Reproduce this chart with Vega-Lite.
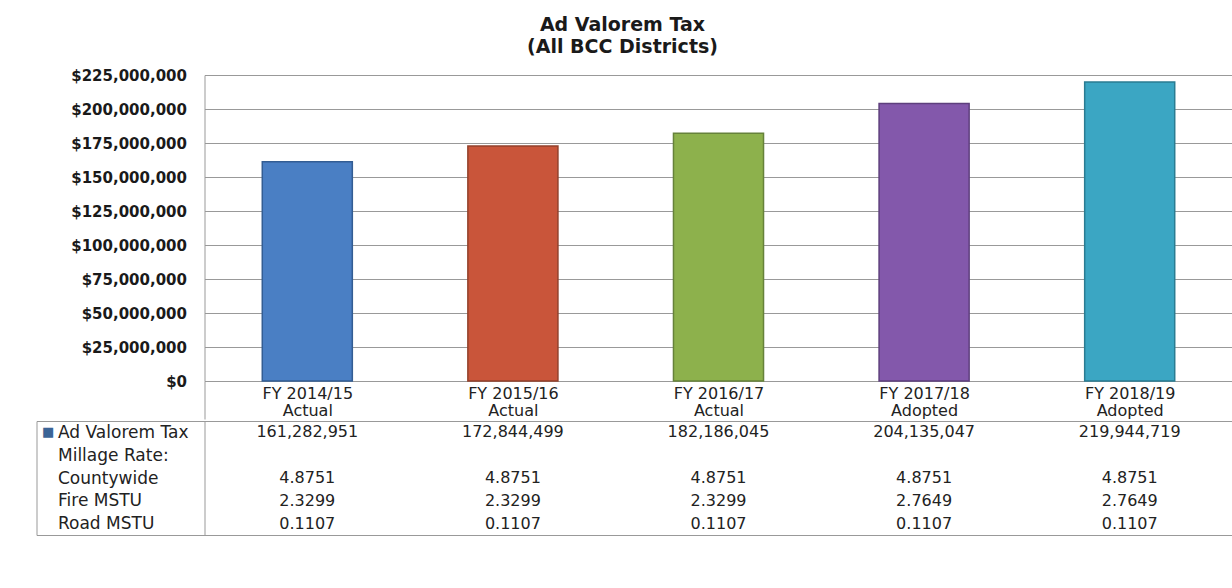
{
  "$schema": "https://vega.github.io/schema/vega-lite/v6.json",
  "padding": {"left": 35.5, "top": 16, "right": 0, "bottom": 0},
  "background": "white",
  "config": {"view": {"stroke": null}, "font": "DejaVu Sans", "axis": {"title": null}},
  "datasets": {
    "tax": [
      {"fy": "FY 2014/15 Actual", "tax": 161282951},
      {"fy": "FY 2015/16 Actual", "tax": 172844499},
      {"fy": "FY 2016/17 Actual", "tax": 182186045},
      {"fy": "FY 2017/18 Adopted", "tax": 204135047},
      {"fy": "FY 2018/19 Adopted", "tax": 219944719}
    ],
    "millage": [
      {"fy": "FY 2014/15 Actual", "row": "Countywide", "rate": 4.8751},
      {"fy": "FY 2015/16 Actual", "row": "Countywide", "rate": 4.8751},
      {"fy": "FY 2016/17 Actual", "row": "Countywide", "rate": 4.8751},
      {"fy": "FY 2017/18 Adopted", "row": "Countywide", "rate": 4.8751},
      {"fy": "FY 2018/19 Adopted", "row": "Countywide", "rate": 4.8751},
      {"fy": "FY 2014/15 Actual", "row": "Fire MSTU", "rate": 2.3299},
      {"fy": "FY 2015/16 Actual", "row": "Fire MSTU", "rate": 2.3299},
      {"fy": "FY 2016/17 Actual", "row": "Fire MSTU", "rate": 2.3299},
      {"fy": "FY 2017/18 Adopted", "row": "Fire MSTU", "rate": 2.7649},
      {"fy": "FY 2018/19 Adopted", "row": "Fire MSTU", "rate": 2.7649},
      {"fy": "FY 2014/15 Actual", "row": "Road MSTU", "rate": 0.1107},
      {"fy": "FY 2015/16 Actual", "row": "Road MSTU", "rate": 0.1107},
      {"fy": "FY 2016/17 Actual", "row": "Road MSTU", "rate": 0.1107},
      {"fy": "FY 2017/18 Adopted", "row": "Road MSTU", "rate": 0.1107},
      {"fy": "FY 2018/19 Adopted", "row": "Road MSTU", "rate": 0.1107}
    ]
  },
  "spacing": -8,
  "vconcat": [
    {
      "width": 1028,
      "height": 306,
      "title": {
        "text": ["Ad Valorem Tax", "(All BCC Districts)"],
        "font": "DejaVu Sans",
        "fontSize": 19,
        "fontWeight": "bold",
        "lineHeight": 22,
        "color": "#1a1a1a",
        "offset": 11,
        "frame": "group",
        "anchor": "middle",
        "dx": -96
      },
      "data": {"name": "tax"},
      "mark": {"type": "bar", "width": {"band": 0.438}, "strokeWidth": 1.5},
      "encoding": {
        "x": {
          "field": "fy",
          "type": "nominal",
          "scale": {"paddingInner": 0, "paddingOuter": 0},
          "axis": {
            "labelAngle": 0,
            "labelExpr": "[slice(datum.label, 0, 10), slice(datum.label, 11)]",
            "labelFont": "DejaVu Sans",
            "labelFontSize": 16,
            "labelColor": "#222222",
            "labelBaseline": "top",
            "labelLineHeight": 17,
            "labelPadding": -34,
            "ticks": true,
            "tickBand": "extent",
            "tickSize": 38,
            "tickColor": "#999999",
            "tickOpacity": {"condition": {"test": "datum.index < 0 || !isValid(datum.value)", "value": 1}, "value": 0},
            "domainColor": "#999999",
            "grid": false
          }
        },
        "y": {
          "field": "tax",
          "type": "quantitative",
          "scale": {"domain": [0, 225000000], "nice": false},
          "axis": {
            "values": [0, 25000000, 50000000, 75000000, 100000000, 125000000, 150000000, 175000000, 200000000, 225000000],
            "format": "$,.0f",
            "labelFont": "DejaVu Sans",
            "labelFontWeight": "bold",
            "labelFontSize": 15,
            "labelColor": "#1a1a1a",
            "labelPadding": 18,
            "ticks": false,
            "domainColor": "#999999",
            "grid": true,
            "gridColor": "#999999"
          }
        },
        "fill": {
          "field": "fy",
          "type": "nominal",
          "legend": null,
          "scale": {"range": ["#4a7fc4", "#c9553a", "#8db14c", "#8358ab", "#3ba6c3"]}
        },
        "stroke": {
          "field": "fy",
          "type": "nominal",
          "legend": null,
          "scale": {"range": ["#335d93", "#93402b", "#66823a", "#5e3f7d", "#2a7c92"]}
        }
      }
    },
    {
      "width": 1028,
      "height": 114,
      "layer": [
        {
          "data": {"name": "tax"},
          "mark": {"type": "text", "font": "DejaVu Sans", "fontSize": 16, "color": "#222222"},
          "encoding": {
            "x": {"field": "fy", "type": "nominal", "scale": {"paddingInner": 0, "paddingOuter": 0}, "axis": null},
            "y": {
              "datum": "Ad Valorem Tax",
              "type": "nominal",
              "scale": {"domain": ["Ad Valorem Tax", "Millage Rate:", "Countywide", "Fire MSTU", "Road MSTU"], "paddingInner": 0, "paddingOuter": 0},
              "axis": {
                "orient": "left",
                "domain": true,
                "domainColor": "#999999",
                "ticks": true,
                "tickBand": "extent",
                "tickSize": 168,
                "tickColor": "#999999",
                "tickOpacity": {"condition": {"test": "datum.index < 0 || !isValid(datum.value) || datum.value === 'Road MSTU'", "value": 1}, "value": 0},
                "grid": true,
                "gridColor": "#999999",
                "gridOpacity": {"condition": {"test": "datum.index < 0 || !isValid(datum.value) || datum.value === 'Road MSTU'", "value": 1}, "value": 0},
                "labelAlign": "left",
                "labelBaseline": "middle",
                "labelPadding": -21,
                "labelFont": "DejaVu Sans",
                "labelFontSize": 17,
                "labelColor": "#222222"
              }
            },
            "text": {"field": "tax", "type": "quantitative", "format": ","}
          }
        },
        {
          "data": {"name": "millage"},
          "mark": {"type": "text", "font": "DejaVu Sans", "fontSize": 16, "color": "#222222"},
          "encoding": {
            "x": {"field": "fy", "type": "nominal", "scale": {"paddingInner": 0, "paddingOuter": 0}, "axis": null},
            "y": {
              "field": "row",
              "type": "nominal",
              "scale": {"domain": ["Ad Valorem Tax", "Millage Rate:", "Countywide", "Fire MSTU", "Road MSTU"], "paddingInner": 0, "paddingOuter": 0},
              "axis": {
                "orient": "left",
                "offset": 168,
                "domain": true,
                "domainColor": "#999999",
                "ticks": false,
                "grid": false,
                "labelExpr": "datum.value === 'Ad Valorem Tax' ? '■' : ''",
                "labelAlign": "left",
                "labelBaseline": "middle",
                "labelPadding": -5,
                "labelFontSize": 13,
                "labelColor": "#3b6496"
              }
            },
            "text": {"field": "rate", "type": "quantitative", "format": ".4f"}
          }
        }
      ],
      "resolve": {"axis": {"y": "independent"}}
    }
  ]
}
